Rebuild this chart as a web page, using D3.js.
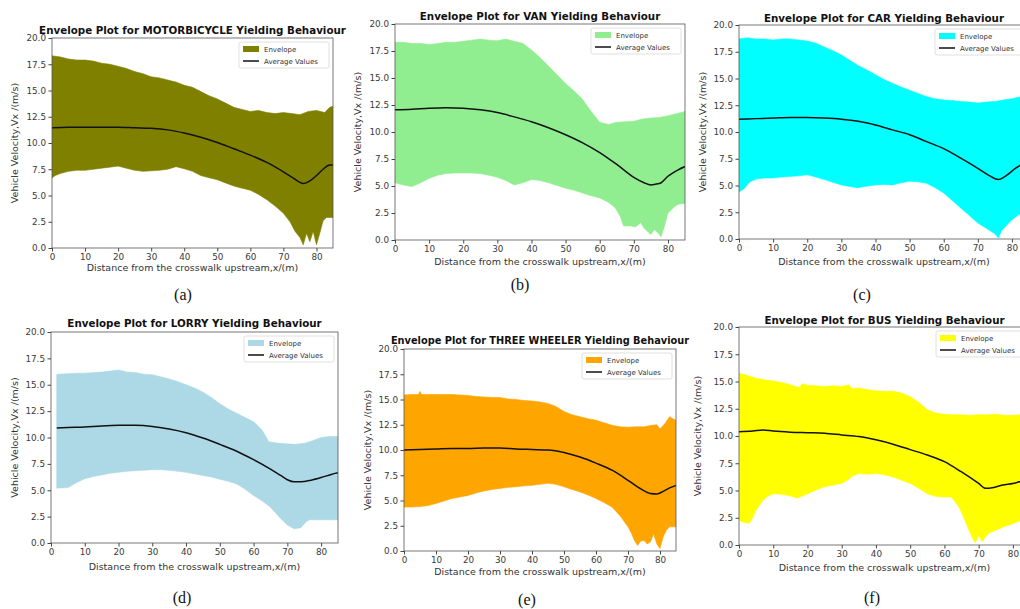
<!DOCTYPE html>
<html>
<head>
<meta charset="utf-8">
<script src="https://cdn.jsdelivr.net/npm/d3@7"></script>
<style>
  body { margin: 0; background: #fff; }
  svg { display: block; }
  .tick text { font-family: "DejaVu Sans", sans-serif; fill: #3a3a3a; }
  .tick line { stroke: #444; }
</style>
</head>
<body>
<div class="envelope-grid"></div>
<script>
// envelope bounds and average velocity, [x (m), v (m/s)]
const motoUpper = [[0,18.3],[2.5,18.2],[5,18.0],[7.5,17.9],[10,17.9],[12.5,17.8],[15,17.6],[17.5,17.5],[20,17.3],[22.5,17.1],[25,16.8],[27.5,16.6],[30,16.3],[32.5,16.2],[35,16.0],[37.5,15.8],[40,15.5],[42.5,15.3],[45,14.9],[47.5,14.5],[50,14.2],[52.5,13.8],[55,13.4],[57.5,13.2],[60,13.0],[62.5,13.1],[65,12.9],[67.5,12.8],[70,12.9],[72.5,12.8],[75,12.7],[77.5,13.0],[80,13.1],[82.5,12.9],[84,13.4],[85,13.5]];
const motoLower = [[0,6.7],[1,6.9],[2.5,7.1],[5,7.3],[7.5,7.4],[10,7.4],[12.5,7.5],[15,7.6],[17.5,7.7],[20,7.8],[22.5,7.6],[25,7.4],[27.5,7.3],[30,7.35],[32.5,7.4],[35,7.5],[37.5,7.75],[40,7.55],[42.5,7.3],[45,6.9],[47.5,6.7],[50,6.5],[52.5,6.2],[55,5.9],[57.5,5.7],[60,5.5],[62.5,5.1],[65,4.6],[67.5,4.0],[70,3.3],[72,2.5],[73.5,1.6],[75,1.0],[76,0.3],[77,1.4],[78,0.6],[79,1.6],[80,0.3],[81,1.4],[82,2.6],[83,2.9],[85,2.9]];
const motoAvg = [[0,11.45],[5,11.5],[10,11.5],[15,11.5],[20,11.5],[25,11.45],[30,11.4],[35,11.25],[40,10.95],[45,10.55],[50,10.05],[55,9.45],[60,8.85],[65,8.15],[70,7.25],[73,6.65],[76,6.15],[78,6.4],[80,6.9],[82,7.5],[84,7.9],[85,7.9]];

const vanUpper = [[0,18.3],[2.5,18.3],[5,18.2],[7.5,18.2],[10,18.1],[12.5,18.2],[15,18.3],[17.5,18.3],[20,18.4],[22.5,18.5],[25,18.6],[27.5,18.5],[30,18.45],[32.5,18.6],[35,18.4],[37.5,18.2],[40,17.6],[42.5,16.9],[45,16.1],[47.5,15.3],[50,14.5],[52.5,13.8],[55,13.0],[57.5,11.9],[60,10.9],[62.5,10.7],[65,10.9],[67.5,10.95],[70,11.0],[72.5,11.2],[75,11.3],[77.5,11.35],[80,11.5],[82.5,11.7],[85,11.9]];
const vanLower = [[0,5.3],[2.5,5.1],[5,4.95],[7.5,5.3],[10,5.7],[12.5,6.0],[15,6.15],[17.5,6.2],[20,6.2],[22.5,6.2],[25,6.15],[27.5,6.0],[30,5.8],[32.5,5.5],[35,5.1],[37.5,5.3],[40,5.6],[42.5,5.5],[45,5.3],[47.5,5.05],[50,4.8],[52.5,4.6],[55,4.35],[57.5,4.1],[60,3.9],[62.5,3.5],[64.5,3.0],[66,2.2],[67,1.3],[69,1.3],[70.5,1.2],[72,1.6],[73,1.1],[74,0.8],[75,0.5],[76,0.95],[77,0.7],[78,0.3],[79,1.3],[80,2.5],[82,3.1],[83,3.3],[85,3.4]];
const vanAvg = [[0,12.05],[5,12.1],[10,12.2],[15,12.25],[20,12.2],[25,12.05],[30,11.8],[35,11.4],[40,10.95],[45,10.4],[50,9.75],[55,9.0],[60,8.1],[65,7.0],[70,5.8],[73,5.3],[75,5.1],[77,5.2],[78,5.3],[80,5.9],[83,6.5],[85,6.8]];

const carUpper = [[0,18.7],[2.5,18.8],[5,18.7],[7.5,18.7],[10,18.6],[12.5,18.7],[15,18.7],[17.5,18.6],[20,18.5],[22.5,18.3],[25,17.95],[27.5,17.6],[30,17.2],[32.5,16.7],[35,16.2],[37.5,15.8],[40,15.35],[42.5,14.9],[45,14.55],[47.5,14.2],[50,13.9],[52.5,13.6],[55,13.3],[57.5,13.1],[60,13.0],[62.5,12.95],[65,12.85],[67.5,12.8],[70,12.7],[72.5,12.8],[75,12.85],[77.5,13.0],[80,13.1],[82.5,13.3],[85,13.3]];
const carLower = [[0,4.4],[1.5,4.7],[3,5.3],[5,5.6],[7.5,5.7],[10,5.7],[12.5,5.8],[15,5.85],[17.5,5.9],[20,6.0],[22.5,5.8],[25,5.55],[27.5,5.3],[30,5.05],[32.5,4.9],[35,4.8],[37.5,4.95],[40,5.05],[42.5,5.1],[45,5.05],[47.5,5.25],[50,5.4],[52.5,5.35],[55,5.2],[57.5,4.8],[60,4.3],[62.5,3.6],[65,2.9],[67.5,2.2],[70,1.5],[72,1.1],[73.5,0.8],[75,0.5],[76,0.1],[77,0.8],[78.5,1.3],[80,1.8],[82.5,2.4],[85,3.0]];
const carAvg = [[0,11.2],[5,11.25],[10,11.3],[15,11.35],[20,11.35],[25,11.3],[30,11.2],[35,11.0],[40,10.65],[45,10.2],[50,9.75],[55,9.1],[60,8.45],[65,7.55],[70,6.6],[73,6.0],[76,5.55],[78,5.85],[81,6.6],[85,7.4]];

const lorryUpper = [[1.7,16.0],[5,16.05],[7.5,16.1],[10,16.1],[12.5,16.15],[15,16.2],[17.5,16.3],[20,16.4],[22.5,16.2],[25,16.15],[27.5,16.0],[30,15.95],[32.5,15.75],[35,15.55],[37.5,15.3],[40,15.0],[42.5,14.7],[45,14.3],[47.5,13.8],[50,13.2],[52.5,12.7],[55,12.3],[57.5,11.9],[60,11.5],[62.5,10.7],[64.5,9.6],[67.5,9.45],[70,9.4],[72.5,9.35],[75,9.45],[77.5,9.7],[80,10.0],[82.5,10.1],[85,10.1]];
const lorryLower = [[1.7,5.2],[5,5.25],[7.5,5.7],[10,6.1],[12.5,6.3],[15,6.45],[17.5,6.6],[20,6.7],[22.5,6.8],[25,6.85],[27.5,6.9],[30,6.95],[32.5,6.95],[35,6.9],[37.5,6.8],[40,6.7],[42.5,6.55],[45,6.4],[47.5,6.25],[50,6.05],[52.5,5.85],[55,5.6],[57.5,5.1],[60,4.5],[62.5,4.0],[65,3.4],[67.5,2.5],[70,1.7],[72,1.35],[74,1.45],[75.5,2.0],[76.5,2.2],[80,2.2],[85,2.2]];
const lorryAvg = [[1.7,10.9],[5,10.95],[10,11.0],[15,11.1],[20,11.15],[25,11.15],[30,11.05],[35,10.8],[40,10.45],[45,9.95],[50,9.35],[55,8.7],[60,7.9],[65,7.0],[68,6.4],[70,6.0],[72,5.8],[74,5.8],[77,5.95],[80,6.2],[83,6.5],[85,6.65]];

const threeUpper = [[0,15.45],[2.5,15.5],[4.5,15.5],[5,15.8],[5.5,15.5],[7.5,15.5],[10,15.5],[12.5,15.5],[15,15.5],[17.5,15.45],[20,15.4],[22.5,15.3],[25,15.25],[27.5,15.2],[30,15.2],[32.5,15.05],[35,15.0],[37.5,14.9],[40,14.85],[42.5,14.75],[45,14.6],[47.5,14.3],[50,13.8],[52.5,13.5],[55,13.3],[57.5,13.1],[60,12.95],[62.5,12.7],[65,12.45],[67.5,12.3],[70,12.25],[72.5,12.3],[75,12.3],[77.5,12.45],[79,12.5],[80,12.1],[81.5,12.6],[83,13.3],[84,13.1],[85,12.95]];
const threeLower = [[0,4.35],[2.5,4.35],[5,4.4],[7.5,4.5],[10,4.7],[12.5,4.95],[15,5.2],[17.5,5.35],[20,5.5],[22.5,5.75],[25,5.95],[27.5,6.1],[30,6.2],[32.5,6.3],[35,6.35],[37.5,6.45],[40,6.5],[42.5,6.6],[45,6.7],[47.5,6.6],[50,6.35],[52.5,6.1],[55,5.85],[57.5,5.55],[60,5.2],[62.5,4.8],[65,4.35],[67.5,3.5],[70,2.4],[71,1.8],[72,1.05],[73,0.55],[74,1.0],[75,1.05],[76,0.7],[77,0.9],[78,1.7],[79,0.7],[80,0.25],[81,1.4],[82,2.05],[83,2.4],[85,2.4]];
const threeAvg = [[0,10.0],[5,10.05],[10,10.1],[15,10.15],[20,10.15],[25,10.2],[30,10.2],[35,10.1],[40,10.05],[45,10.0],[50,9.75],[55,9.3],[60,8.7],[65,8.0],[70,7.0],[74,6.15],[77,5.7],[79,5.65],[81,5.9],[83,6.25],[85,6.5]];

const busUpper = [[0,15.75],[2,15.6],[5,15.3],[7.5,15.15],[10,15.05],[12.5,14.9],[15,14.7],[17.5,14.45],[18.5,14.8],[20,14.65],[22.5,14.6],[25,14.55],[27.5,14.6],[30,14.55],[32,14.7],[33,14.35],[35,14.4],[37.5,14.25],[40,14.15],[42.5,14.1],[45,14.1],[47.5,13.95],[50,13.6],[52.5,13.1],[55,12.4],[57.5,12.1],[60,12.0],[62.5,11.95],[65,11.95],[67.5,11.9],[70,11.95],[72.5,11.95],[75,12.0],[77.5,11.9],[80,11.9],[82.5,11.95],[85,12.0]];
const busLower = [[0,2.3],[1,2.1],[3,2.0],[4,2.5],[5,3.2],[6.5,3.9],[8,4.4],[10,4.7],[12.5,4.65],[15,4.5],[17,4.3],[20,4.7],[22.5,5.05],[25,5.35],[27.5,5.5],[30,5.65],[32,6.0],[33,6.3],[35,6.55],[37.5,6.5],[40,6.55],[42.5,6.45],[45,6.25],[47.5,5.95],[50,5.65],[52.5,5.2],[55,4.7],[57.5,4.45],[60,4.4],[62,4.4],[63,4.0],[64,3.6],[65,3.0],[66,2.25],[67,1.5],[68,0.75],[69,0.2],[70,0.9],[71,0.3],[72,0.75],[73,1.1],[75,1.35],[77.5,1.7],[80,1.95],[82.5,2.3],[85,2.6]];
const busAvg = [[0,10.4],[4,10.45],[7,10.55],[10,10.45],[15,10.35],[20,10.3],[25,10.25],[30,10.1],[35,9.95],[40,9.65],[45,9.25],[50,8.75],[55,8.25],[60,7.65],[65,6.7],[70,5.65],[72,5.2],[74,5.25],[77,5.5],[80,5.65],[85,6.1]];

const vehicles = ['MOTORBICYCLE', 'VAN', 'CAR', 'LORRY', 'THREE WHEELER', 'BUS'];
const letters = ['(a)', '(b)', '(c)', '(d)', '(e)', '(f)'];
const envelopeColors = ['#808000', '#90ee90', '#00ffff', '#add8e6', '#ffa500', '#ffff00'];
const xTicks = [0, 10, 20, 30, 40, 50, 60, 70, 80];
const yTicks = [0, 2.5, 5, 7.5, 10, 12.5, 15, 17.5, 20];

const series = [
	{ upper: motoUpper, lower: motoLower, avg: motoAvg },
	{ upper: vanUpper, lower: vanLower, avg: vanAvg },
	{ upper: carUpper, lower: carLower, avg: carAvg },
	{ upper: lorryUpper, lower: lorryLower, avg: lorryAvg },
	{ upper: threeUpper, lower: threeLower, avg: threeAvg },
	{ upper: busUpper, lower: busLower, avg: busAvg }
];

// where each subplot sits in the figure
const layout = [
	{ left: 52, top: 38, width: 281, height: 210, titleY: 34, titleSize: 10.3, xLabelY: 271, yLabelX: 18, letterX: 183, letterY: 300 },
	{ left: 395, top: 24, width: 290, height: 216, titleY: 20, titleSize: 10.3, xLabelY: 265, yLabelX: 361, letterX: 520, letterY: 290 },
	{ left: 739, top: 25, width: 290, height: 214, titleY: 22, titleSize: 10.3, xLabelY: 265, yLabelX: 706, letterX: 862, letterY: 300 },
	{ left: 51, top: 332, width: 287, height: 211, titleY: 327, titleSize: 10.3, xLabelY: 570, yLabelX: 18, letterX: 182, letterY: 603 },
	{ left: 404, top: 349, width: 272, height: 202, titleY: 344, titleSize: 9.8, xLabelY: 575, yLabelX: 371, letterX: 527, letterY: 605 },
	{ left: 739, top: 327, width: 291, height: 218, titleY: 324, titleSize: 10.3, xLabelY: 571, yLabelX: 701, letterX: 872, letterY: 603 }
];

const svg = d3.select('.envelope-grid')
	.append('svg')
	.attr('width', 1020)
	.attr('height', 609);

const font = '"DejaVu Sans", sans-serif';

series.forEach((s, i) => {
	const L = layout[i];
	const x = d3.scaleLinear().domain([0, 85]).range([0, L.width]);
	const y = d3.scaleLinear().domain([0, 20]).range([L.height, 0]);

	const g = svg.append('g')
		.attr('transform', 'translate(' + L.left + ',' + L.top + ')');

	g.append('clipPath')
		.attr('id', 'clip' + i)
		.append('rect')
		.attr('width', L.width)
		.attr('height', L.height);

	const line = d3.line().x(d => x(d[0])).y(d => y(d[1]));

	// envelope polygon: upper edge forward, lower edge back
	g.append('path')
		.attr('clip-path', 'url(#clip' + i + ')')
		.attr('d', line(s.upper.concat(s.lower.slice().reverse())) + 'Z')
		.attr('fill', envelopeColors[i])
		.attr('stroke', envelopeColors[i])
		.attr('stroke-width', 0.6);

	g.append('path')
		.attr('clip-path', 'url(#clip' + i + ')')
		.attr('d', line.curve(d3.curveMonotoneX)(s.avg))
		.attr('fill', 'none')
		.attr('stroke', '#111')
		.attr('stroke-width', 1.5);

	const xAxis = g.append('g')
		.attr('transform', 'translate(0,' + L.height + ')')
		.call(d3.axisBottom(x).tickValues(xTicks).tickSize(3.5).tickPadding(2).tickFormat(d3.format('d')));
	const yAxis = g.append('g')
		.call(d3.axisLeft(y).tickValues(yTicks).tickSize(3.5).tickPadding(2.5).tickFormat(d3.format('.1f')));
	[xAxis, yAxis].forEach(a => {
		a.select('.domain').remove();
		a.selectAll('text').attr('font-size', 8.8).attr('font-family', font);
	});

	g.append('rect')
		.attr('width', L.width)
		.attr('height', L.height)
		.attr('fill', 'none')
		.attr('stroke', '#555')
		.attr('stroke-width', 0.8);

	// legend, upper right
	const lw = 90, lh = 26;
	const lg = g.append('g')
		.attr('transform', 'translate(' + (L.width - lw - 4) + ',4)');
	lg.append('rect')
		.attr('width', lw)
		.attr('height', lh)
		.attr('rx', 2)
		.attr('fill', '#fff')
		.attr('fill-opacity', 0.8)
		.attr('stroke', '#d8d8d8')
		.attr('stroke-width', 0.8);
	lg.append('rect')
		.attr('x', 4).attr('y', 4)
		.attr('width', 16).attr('height', 6)
		.attr('fill', envelopeColors[i]);
	lg.append('line')
		.attr('x1', 4).attr('x2', 20)
		.attr('y1', 19).attr('y2', 19)
		.attr('stroke', '#111')
		.attr('stroke-width', 1.5);
	lg.selectAll('text.leg')
		.data(['Envelope', 'Average Values'])
		.enter()
		.append('text')
		.attr('class', 'leg')
		.attr('x', 25)
		.attr('y', (d, k) => 10 + k * 12)
		.attr('font-size', 7)
		.attr('font-family', font)
		.attr('fill', '#333')
		.text(d => d);

	svg.append('text')
		.attr('x', L.left + L.width / 2)
		.attr('y', L.titleY)
		.attr('text-anchor', 'middle')
		.attr('font-family', font)
		.attr('font-weight', 'bold')
		.attr('font-size', L.titleSize)
		.attr('fill', '#111')
		.text('Envelope Plot for ' + vehicles[i] + ' Yielding Behaviour');

	svg.append('text')
		.attr('x', L.left + L.width / 2)
		.attr('y', L.xLabelY)
		.attr('text-anchor', 'middle')
		.attr('font-family', font)
		.attr('font-size', 9.5)
		.attr('fill', '#333')
		.text('Distance from the crosswalk upstream,x/(m)');

	svg.append('text')
		.attr('transform', 'translate(' + L.yLabelX + ',' + (L.top + L.height / 2) + ') rotate(-90)')
		.attr('text-anchor', 'middle')
		.attr('font-family', font)
		.attr('font-size', 9.5)
		.attr('fill', '#333')
		.text('Vehicle Velocity,Vx /(m/s)');

	svg.append('text')
		.attr('x', L.letterX)
		.attr('y', L.letterY)
		.attr('text-anchor', 'middle')
		.attr('font-family', '"Liberation Serif", serif')
		.attr('font-size', 16)
		.attr('fill', '#111')
		.text(letters[i]);
});
</script>
</body>
</html>
